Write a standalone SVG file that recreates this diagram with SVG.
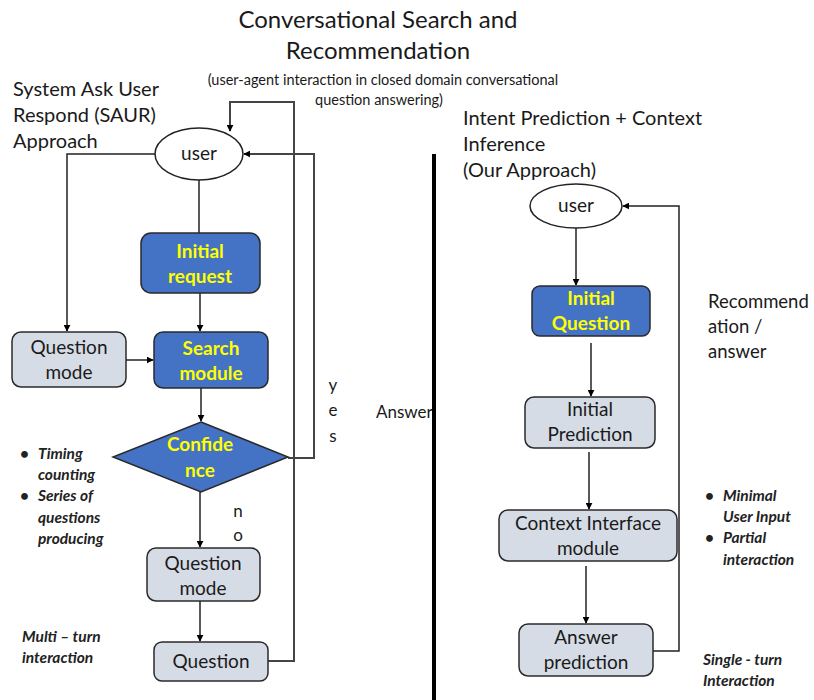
<svg xmlns="http://www.w3.org/2000/svg" width="814" height="700" viewBox="0 0 814 700">
<defs>
<marker id="ah" viewBox="0 0 10 10" refX="9" refY="5" markerWidth="7" markerHeight="7" orient="auto" markerUnits="userSpaceOnUse">
<path d="M0,0 L10,5 L0,10 z" fill="#000"/>
</marker>
<style>
text{font-family:Lato,"Liberation Sans",sans-serif;fill:#1a1a1a}
.t{font-size:24px;text-anchor:middle}
.sub{font-size:14.5px;text-anchor:middle}
.h{font-size:20px}
.rh{font-size:18.5px}
.lbl{font-size:19px;text-anchor:middle}
.yl{font-size:17px;text-anchor:middle}
.bl{font-size:19px;text-anchor:middle;font-weight:bold;fill:#ffff00}
.it{font-size:15.5px;font-style:italic;font-weight:bold;fill:#222}
.blue{fill:#4472c4;stroke:#2a2a2a;stroke-width:1.5}
.grey{fill:#d6dce5;stroke:#2a2a2a;stroke-width:1.5}
.ell{fill:#fff;stroke:#222;stroke-width:1.5}
.c{fill:none;stroke:#222;stroke-width:1.5}
.cg{fill:none;stroke:#444;stroke-width:2}
</style>
</defs>
<rect width="814" height="700" fill="#fff"/>

<g id="titles">
<text class="t" x="378" y="28">Conversational Search and</text>
<text class="t" x="378" y="59">Recommendation</text>
<text class="sub" x="383" y="85">(user-agent interaction in closed domain conversational</text>
<text class="sub" x="379" y="105">question answering)</text>
<text class="h" x="13" y="96">System Ask User</text>
<text class="h" x="13" y="122">Respond (SAUR)</text>
<text class="h" x="13" y="148">Approach</text>
<text class="h" x="463" y="125">Intent Prediction + Context</text>
<text class="h" x="463" y="151">Inference</text>
<text class="h" x="463" y="177">(Our Approach)</text>
</g>

<g id="answer-label"><text class="yl" x="376" y="418" style="text-anchor:start">Answer</text></g>
<g id="divider"><rect x="432" y="154" width="4" height="546" fill="#000"/></g>

<g id="connectors">
<path class="c" d="M155,154 H67 V331" marker-end="url(#ah)"/>
<path class="c" d="M199,180 V233"/>
<path class="c" d="M200,280 V331" marker-end="url(#ah)"/>
<path class="c" d="M126,360 H153" marker-end="url(#ah)"/>
<path class="c" d="M201,376 V421" marker-end="url(#ah)"/>
<path class="cg" d="M288,458 H314 V154 H244" marker-end="url(#ah)"/>
<path class="c" d="M200,492 V547" marker-end="url(#ah)"/>
<path class="c" d="M200,590 V641" marker-end="url(#ah)"/>
<path class="cg" d="M268,661 H294 V102 H230 V131" marker-end="url(#ah)"/>
<path class="c" d="M576,228 V285" marker-end="url(#ah)"/>
<path class="c" d="M591,343 V396" marker-end="url(#ah)"/>
<path class="c" d="M589,452 V509" marker-end="url(#ah)"/>
<path class="c" d="M586,566 V623" marker-end="url(#ah)"/>
<path class="c" d="M653,651 H679 V206 H623" marker-end="url(#ah)"/>
</g>

<g id="user-left"><ellipse class="ell" cx="199" cy="154" rx="44" ry="26"/><text class="lbl" x="199" y="160">user</text></g>
<g id="initial-request"><rect class="blue" x="141" y="233" width="119" height="60" rx="10"/><text class="bl" x="200" y="258">Initial</text><text class="bl" x="200" y="283">request</text></g>
<g id="question-mode-1"><rect class="grey" x="12" y="332" width="114" height="55" rx="9"/><text class="lbl" x="69" y="354">Question</text><text class="lbl" x="69" y="379">mode</text></g>
<g id="search-module"><rect class="blue" x="154" y="332" width="114" height="56" rx="9"/><text class="bl" x="211" y="355">Search</text><text class="bl" x="211" y="380">module</text></g>
<g id="confidence"><polygon class="blue" points="201,422 288,457 201,492 113,457"/><text class="bl" x="200" y="451">Confide</text><text class="bl" x="200" y="477">nce</text></g>
<g id="question-mode-2"><rect class="grey" x="147" y="548" width="113" height="53" rx="9"/><text class="lbl" x="203" y="570">Question</text><text class="lbl" x="203" y="595">mode</text></g>
<g id="question"><rect class="grey" x="154" y="642" width="114" height="39" rx="8"/><text class="lbl" x="211" y="668">Question</text></g>

<g id="edge-labels">
<text class="yl" x="333" y="391">y</text>
<text class="yl" x="333" y="416">e</text>
<text class="yl" x="333" y="442">s</text>
<text class="yl" x="238" y="517">n</text>
<text class="yl" x="238" y="541">o</text>
</g>

<g id="user-right"><ellipse class="ell" cx="576" cy="206" rx="46" ry="22"/><text class="lbl" x="576" y="212">user</text></g>
<g id="initial-question"><rect class="blue" x="532" y="286" width="118" height="50" rx="8"/><text class="bl" x="591" y="305">Initial</text><text class="bl" x="591" y="330">Question</text></g>
<g id="initial-prediction"><rect class="grey" x="525" y="397" width="130" height="51" rx="9"/><text class="lbl" x="590" y="416">Initial</text><text class="lbl" x="590" y="441">Prediction</text></g>
<g id="context-interface"><rect class="grey" x="499" y="510" width="178" height="51" rx="9"/><text class="lbl" x="588" y="530">Context Interface</text><text class="lbl" x="588" y="555">module</text></g>
<g id="answer-prediction"><rect class="grey" x="519" y="624" width="134" height="52" rx="9"/><text class="lbl" x="586" y="644">Answer</text><text class="lbl" x="586" y="669">prediction</text></g>

<g id="notes">
<text class="rh" x="708" y="308">Recommend</text>
<text class="rh" x="708" y="333">ation /</text>
<text class="rh" x="708" y="358">answer</text>
<text class="it" x="20" y="459">•</text><text class="it" x="38" y="459">Timing</text>
<text class="it" x="38" y="480">counting</text>
<text class="it" x="20" y="501">•</text><text class="it" x="38" y="501">Series of</text>
<text class="it" x="38" y="523">questions</text>
<text class="it" x="38" y="544">producing</text>
<text class="it" x="22" y="642">Multi – turn</text>
<text class="it" x="22" y="663">interaction</text>
<text class="it" x="705" y="501">•</text><text class="it" x="723" y="501">Minimal</text>
<text class="it" x="723" y="522">User Input</text>
<text class="it" x="705" y="543">•</text><text class="it" x="723" y="543">Partial</text>
<text class="it" x="723" y="565">interaction</text>
<text class="it" x="703" y="665">Single - turn</text>
<text class="it" x="703" y="686">Interaction</text>
</g>
</svg>
